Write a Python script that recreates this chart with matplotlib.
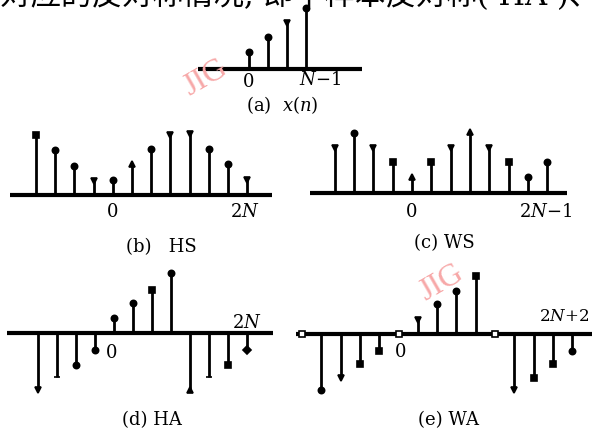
import matplotlib
matplotlib.use('Agg')
import matplotlib.pyplot as plt

W, H = 592, 430

# stem values (one unit ~ 15 px)
n_a = [0, 1, 2, 3]
x_a = [1.1, 2.1, 3.05, 4.05]
mk_a = ['o', 'o', 'v', 'o']

n_b = [-4, -3, -2, -1, 0, 1, 2, 3, 4, 5, 6, 7]
hs = [4.0, 3.0, 1.95, 0.95, 1.0, 2.05, 3.1, 4.0, 4.05, 3.1, 2.1, 1.0]
mk_b = ['s', 'o', 'o', 'v', 'o', '^', 'o', 'v', 'v', 'o', 'o', 'v']

n_c = [-4, -3, -2, -1, 0, 1, 2, 3, 4, 5, 6, 7]
ws = [3.0, 4.0, 3.0, 2.1, 1.05, 2.05, 3.0, 4.05, 3.0, 2.1, 1.05, 2.05]
mk_c = ['v', 'o', 'v', 's', '^', 's', 'v', '^', 'v', 's', 'o', 'o']

n_d = [-4, -3, -2, -1, 0, 1, 2, 3, 4, 5, 6, 7]
ha = [-3.8, -2.9, -2.1, -1.1, 1.0, 2.0, 2.9, 4.0, -3.8, -2.9, -2.1, -1.1]
mk_d = ['v', '_', 'o', 'o', 'o', 'o', 's', 'o', '^', '_', 's', 'D']

n_e = [-5, -4, -3, -2, -1, 0, 1, 2, 3, 4, 5, 6, 7, 8, 9]
wa = [0, -3.7, -2.9, -2.0, -1.1, 0, 0.95, 2.0, 2.9, 3.9, 0, -3.7, -2.9, -2.0, -1.1]
mk_e = ['s', 'o', 'v', 's', 's', 's', 'v', 'o', 'o', 's', 's', 'v', 's', 's', 'o']

plt.rcParams['font.family'] = ['DejaVu Serif']
plt.rcParams['mathtext.fontset'] = 'dejavuserif'

fig = plt.figure(figsize=(W / 100, H / 100), dpi=100)
fig.patch.set_facecolor('white')


def panel(x0, y0, dx, dy, nlo, nhi):
    # x0, y0: pixel spot of n=0 on the axis line, dx/dy: pixels per unit
    vlo, vhi = -5, 5
    left = x0 + nlo * dx
    right = x0 + nhi * dx
    top = y0 - vhi * dy
    bottom = y0 - vlo * dy
    ax = fig.add_axes([left / W, 1 - bottom / H, (right - left) / W, (bottom - top) / H])
    ax.set_xlim(nlo, nhi)
    ax.set_ylim(vlo, vhi)
    ax.axis('off')
    ax.plot([nlo, nhi], [0, 0], color='black', lw=3, solid_capstyle='butt', clip_on=False)
    return ax


def stems(ax, n, v, marks):
    ax.vlines(n, 0, v, color='black', lw=2.0, clip_on=False)
    for xi, yi, m in zip(n, v, marks):
        face = 'white' if yi == 0 and m == 's' else 'black'
        ax.plot(xi, yi, marker=m, ms=4.5, mfc=face, mec='black', mew=1.2,
                linestyle='none', clip_on=False)


lab = dict(ha='center', va='center', fontsize=13)

# (a) x(n)
ax = panel(249, 69, 19, 15, -2.68, 5.95)
stems(ax, n_a, x_a, mk_a)
ax.text(0, -0.85, '0', **lab)
ax.text(3.75, -0.75, '$N$\u22121', **lab)

# (b) HS
ax = panel(112.8, 195, 19.2, 15, -5.35, 8.29)
stems(ax, n_b, hs, mk_b)
ax.text(0, -1.15, '0', **lab)
ax.text(6.9, -1.15, '2$N$', **lab)

# (c) WS
ax = panel(412, 193, 19.3, 15, -5.28, 8.03)
stems(ax, n_c, ws, mk_c)
ax.text(0, -1.25, '0', **lab)
ax.text(6.9, -1.25, '2$N$\u22121', **lab)

# (d) HA
ax = panel(114, 333, 19, 15, -5.63, 8.37)
stems(ax, n_d, ha, mk_d)
ax.text(-0.1, -1.3, '0', **lab)
ax.text(7.0, 0.7, '2$N$', **lab)

# (e) WA
ax = panel(398.5, 334, 19.3, 15, -5.31, 10.03)
stems(ax, n_e, wa, mk_e)
ax.text(0.1, -1.2, '0', **lab)
ax.text(9.88, 1.15, '2$N$+2', ha='right', va='center', fontsize=12)

# captions
captions = [(282, 105, '(a)  $x(n)$'), (161, 247, '(b)   HS'), (444, 243, '(c) WS'),
            (152, 420, '(d) HA'), (449, 420, '(e) WA')]
for cx, cy, s in captions:
    fig.text(cx / W, 1 - cy / H, s, ha='center', va='center', fontsize=13)

# watermarks
for wx, wy in [(206, 78), (442, 283)]:
    fig.text(wx / W, 1 - wy / H, 'JIG', ha='center', va='center', fontsize=23,
             color='#f7a8a8', rotation=30, family=['Liberation Serif'])

# clipped line of book text above the figure
fig.text(0, 1 - 5 / H, '对应的反对称情况, 即半样本反对称( HA )、全',
         ha='left', va='baseline', fontsize=22,
         family=['DejaVu Serif', 'Noto Sans CJK SC'])

fig.savefig('out.png', dpi=100)
